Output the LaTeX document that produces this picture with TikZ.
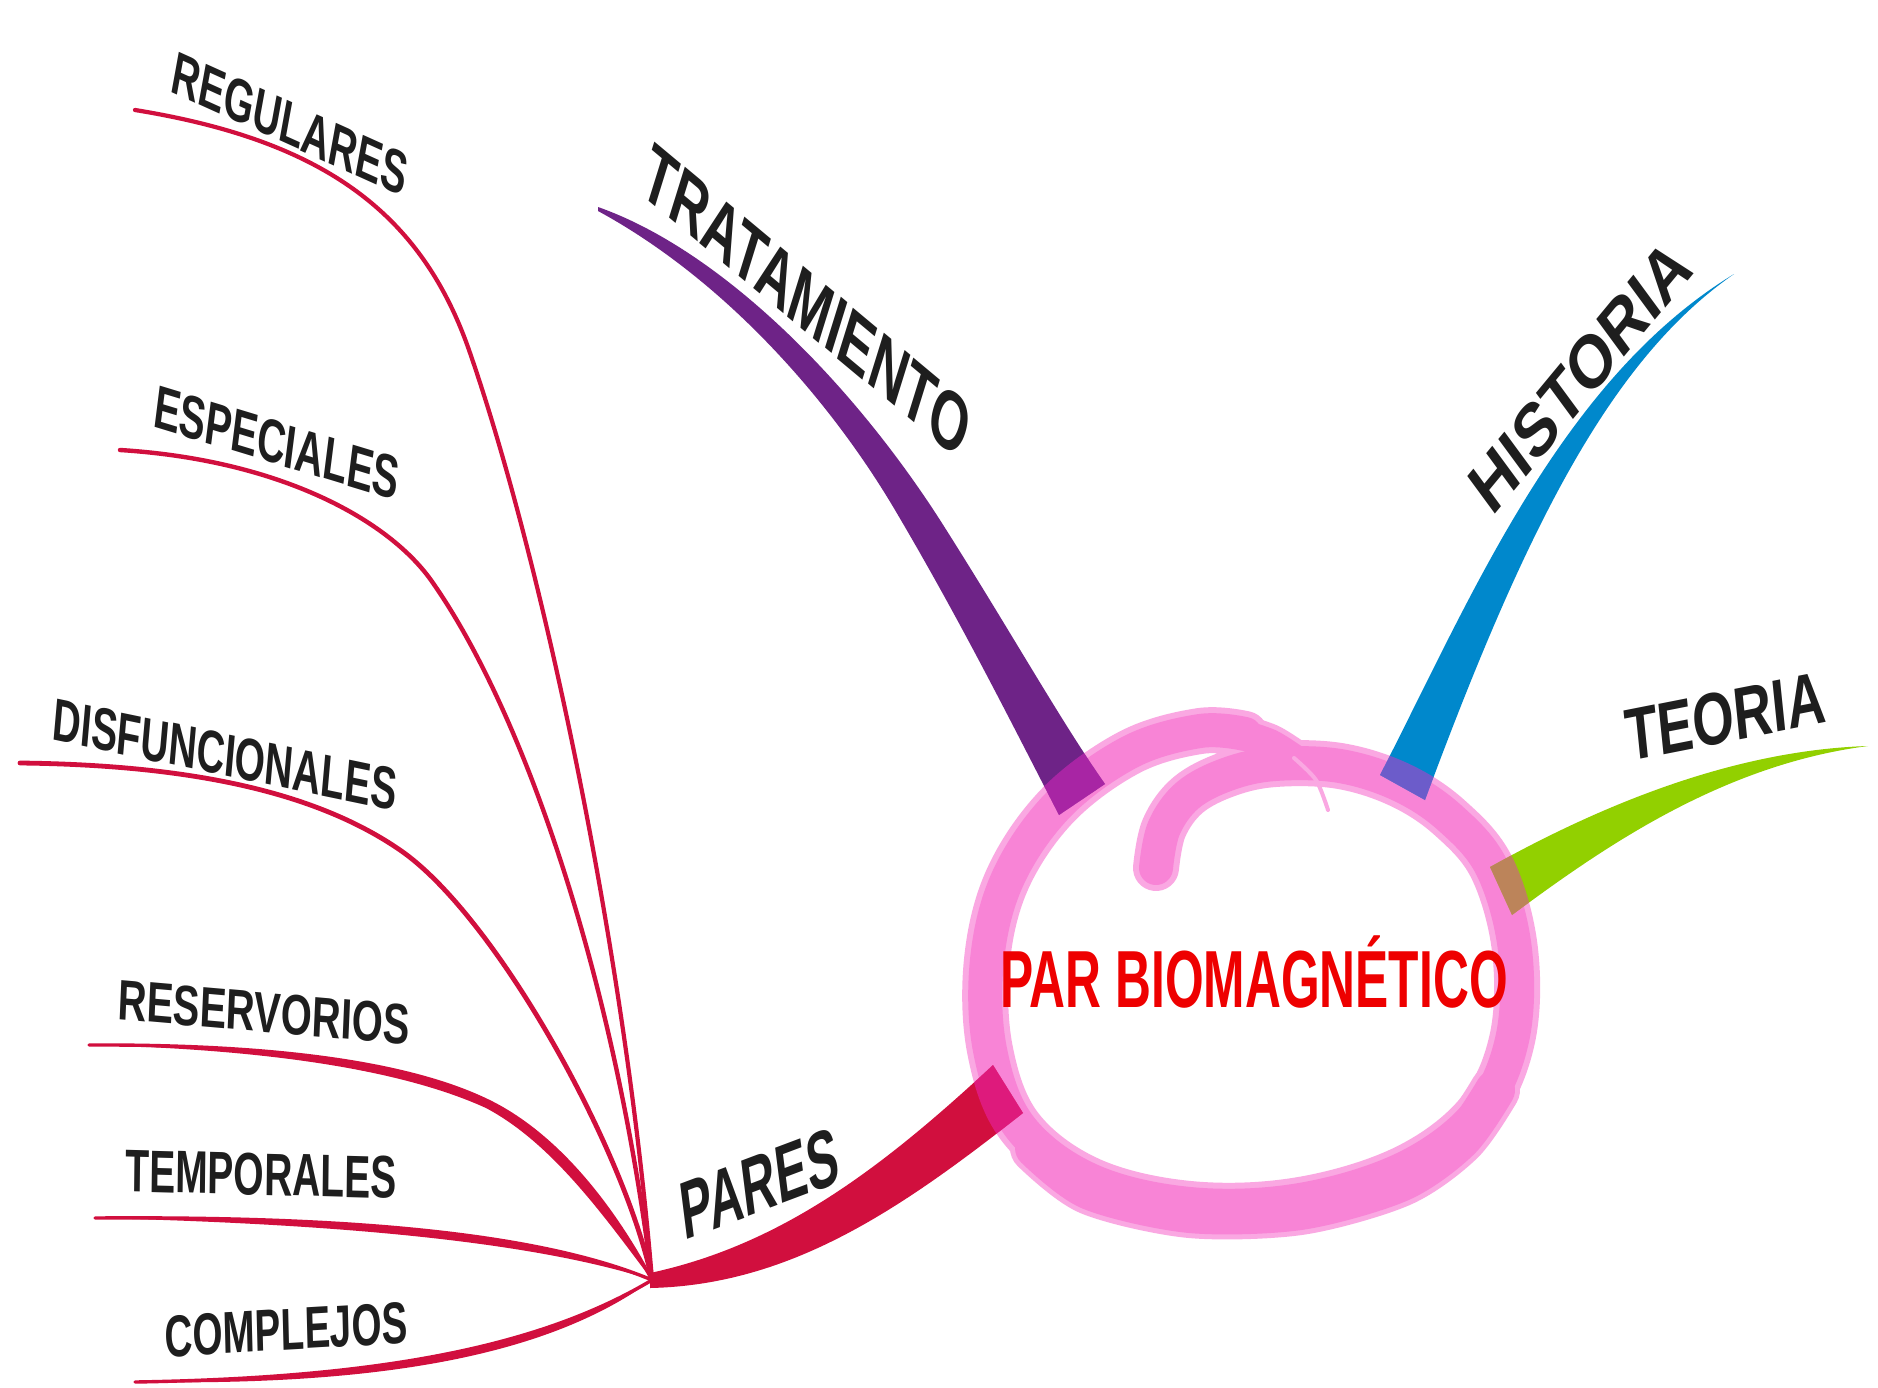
\documentclass[tikz,border=0pt]{standalone}
\usepackage{fontspec}
\setmainfont{Liberation Sans}
\definecolor{ink}{RGB}{30,30,30}
\definecolor{crim}{RGB}{209,15,62}
\definecolor{purp}{RGB}{110,35,135}
\definecolor{azul}{RGB}{0,136,204}
\definecolor{verde}{RGB}{146,208,0}
\definecolor{rosa}{RGB}{248,132,214}
\definecolor{rosah}{RGB}{250,168,226}
\definecolor{mezcla}{RGB}{240,40,200}
\definecolor{rojo}{RGB}{238,0,0}
\begin{document}
\begin{tikzpicture}[x=1pt,y=-1pt,
  subline/.style={draw=crim, line cap=round, line join=round},
  lab/.style={inner sep=0pt, anchor=base, text=ink},
  clab/.style={inner sep=0pt, anchor=center, text=ink},
  ringmain/.style={draw=rosa, line width=34pt, line cap=round, line join=round},
  ringhalo/.style={draw=rosah, line width=46pt, line cap=round, line join=round},
  blend/.style={draw=mezcla, opacity=.45, line width=46pt, line cap=round, line join=round}]
\useasboundingbox (0,0) rectangle (1878,1387);
\fill[white] (0,0) rectangle (1878,1387);

% named points
\coordinate (hub) at (652,1280);
\coordinate (hubU) at (650,1273);
\coordinate (hubL) at (650,1288);
\coordinate (regA) at (135,110);
\coordinate (espA) at (120,450);
\coordinate (disA) at (20,763);
\coordinate (resA) at (89,1045);
\coordinate (temA) at (95,1218);
\coordinate (comA) at (135,1382);
\coordinate (tratT) at (598,207);
\coordinate (tratB1) at (1105,784);
\coordinate (tratB2) at (1059,815);
\coordinate (histT) at (1734,274);
\coordinate (histB1) at (1425,800);
\coordinate (histB2) at (1380,775);
\coordinate (teoT) at (1868,746);
\coordinate (teoB1) at (1490,867);
\coordinate (teoB2) at (1512,915);
\coordinate (parB1) at (993,1065);
\coordinate (parB2) at (1023,1113);

\def\ringpath{plot[smooth, tension=0.6] coordinates {(1156,868) (1164,828) (1188,795) (1228,774) (1275,764) (1340,766) (1400,785) (1450,818) (1492,868) (1515,950) (1512,1040) (1478,1113) (1405,1168) (1300,1200) (1190,1204) (1090,1180) (1020,1127) (990,1050) (987,960) (1008,878) (1058,805) (1130,752) (1200,731) (1245,734)}}
\def\ringend{plot[smooth] coordinates {(1240,733) (1270,743) (1294,758)}}
\def\trat{(tratT) .. controls (720,250) and (850,380) .. (940,520) .. controls (1010,630) and (1060,720) .. (tratB1) -- (tratB2) .. controls (1010,720) and (960,620) .. (895,510) .. controls (830,400) and (725,280) .. (598,211) -- cycle}
\def\hist{(histT) .. controls (1610,360) and (1525,530) .. (histB1) -- (histB2) .. controls (1470,600) and (1560,380) .. (histT) -- cycle}
\def\teor{(teoT) .. controls (1740,750) and (1610,800) .. (teoB1) -- (teoB2) .. controls (1600,850) and (1720,765) .. (teoT) -- cycle}
\def\pares{(hubU) .. controls (780,1245) and (880,1170) .. (parB1) -- (parB2) .. controls (900,1210) and (790,1285) .. (hubL) -- cycle}

% sub-branches of PARES
\draw[subline, line width=4.2pt] (regA) .. controls (320,140) and (420,210) .. (469,350) .. controls (542,560) and (625,950) .. (hub);
\draw[subline, line width=4.4pt] (espA) .. controls (280,460) and (390,520) .. (433,583) .. controls (525,715) and (615,980) .. (hub);
\draw[subline, line width=4.8pt] (disA) .. controls (200,765) and (320,795) .. (400,850) .. controls (496,916) and (625,1150) .. (hub);
\fill[crim] (resA) .. controls (300,1044) and (420,1068) .. (488,1101) .. controls (556,1134) and (612,1205) .. (hub) .. controls (604,1216) and (552,1143) .. (486,1108) .. controls (418,1077) and (300,1050) .. (resA) -- cycle;
\draw[subline, line width=3.4pt] (resA) .. controls (300,1044) and (420,1068) .. (488,1101) .. controls (556,1134) and (612,1205) .. (hub);
\fill[crim] (temA) .. controls (350,1216) and (540,1233) .. (hub) .. controls (538,1243) and (350,1224) .. (temA) -- cycle;
\draw[subline, line width=3.4pt] (temA) .. controls (350,1216) and (540,1233) .. (hub);
\fill[crim] (comA) .. controls (380,1378) and (540,1347) .. (hub) .. controls (548,1356) and (380,1386) .. (comA) -- cycle;
\draw[subline, line width=3.4pt] (comA) .. controls (380,1378) and (540,1347) .. (hub);

% ring (brush stroke)
\draw[ringhalo] \ringpath;
\draw[draw=rosah, line width=38pt, line cap=round] \ringend;
\draw[draw=rosah, line width=50pt, line cap=round] plot[smooth] coordinates {(1495,1090) (1460,1140) (1400,1182) (1300,1210) (1190,1213) (1090,1190) (1035,1148)};
\draw[ringmain] \ringpath;
\draw[draw=rosa, line width=28pt, line cap=round] \ringend;
\draw[draw=rosa, line width=40pt, line cap=round] plot[smooth] coordinates {(1495,1090) (1460,1140) (1400,1182) (1300,1210) (1190,1213) (1090,1190) (1035,1148)};
\draw[draw=rosah, line width=4pt, line cap=round] plot[smooth] coordinates {(1294,758) (1316,780) (1328,810)};

% main branches
\fill[purp] \trat;
\fill[azul] \hist;
\fill[verde] \teor;
\fill[crim] \pares;

% ring seen through the branch bases
\begin{scope}\clip \trat; \draw[blend] \ringpath; \end{scope}
\begin{scope}\clip \hist; \draw[blend] \ringpath; \end{scope}
\begin{scope}\clip \teor; \draw[blend] \ringpath; \end{scope}
\begin{scope}\clip \pares; \draw[blend] \ringpath; \end{scope}

% centre
\node[inner sep=0pt, anchor=base, text=rojo, font=\bfseries\fontsize{81}{81}\selectfont, xscale=0.614] (centro) at (1254,1007) {PAR BIOMAGNÉTICO};

% labels
\node[clab, font=\bfseries\fontsize{61}{61}\selectfont, xscale=0.635, rotate=-16] (regulares) at (290,124) {REGULARES};
\node[clab, font=\bfseries\fontsize{61}{61}\selectfont, xscale=0.645, rotate=-11.1] (especiales) at (277,443) {ESPECIALES};
\node[clab, font=\bfseries\fontsize{60}{60}\selectfont, xscale=0.65, rotate=-7.7] (disfuncionales) at (225,755) {DISFUNCIONALES};
\node[lab, font=\bfseries\fontsize{57}{57}\selectfont, xscale=0.70, rotate=-3.5] (reservorios) at (263,1032) {RESERVORIOS};
\node[lab, font=\bfseries\fontsize{60}{60}\selectfont, xscale=0.65, rotate=-1] (temporales) at (261,1195) {TEMPORALES};
\node[lab, font=\bfseries\fontsize{59}{59}\selectfont, xscale=0.654, rotate=2.2] (complejos) at (287,1350) {COMPLEJOS};
\node[lab, font=\bfseries\fontsize{82}{82}\selectfont, xscale=0.58, rotate=12.3] (pareslab) at (763,1211) {PARES};
\node[clab, font=\bfseries\fontsize{83}{83}\selectfont, xscale=0.61, rotate=-27] (tratamiento) at (807,301) {TRATAMIENTO};
\node[clab, font=\bfseries\fontsize{75}{75}\selectfont, xscale=0.78, rotate=43.3] (historia) at (1580,376) {HISTORIA};
\node[lab, font=\bfseries\fontsize{74}{74}\selectfont, xscale=0.72, rotate=8.1] (teoria) at (1728,742) {TEORIA};
\end{tikzpicture}
\end{document}
